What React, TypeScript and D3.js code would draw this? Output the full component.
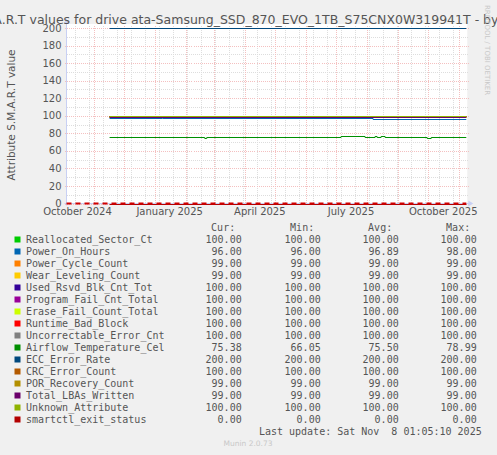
import React from 'react';
import * as d3 from 'd3';

const titleText = 'S.M.A.R.T values for drive ata-Samsung_SSD_870_EVO_1TB_S75CNX0W319941T - by year';
const yAxisTitle = 'Attribute S.M.A.R.T value';

const seriesNames = [
  'Reallocated_Sector_Ct', 'Power_On_Hours', 'Power_Cycle_Count', 'Wear_Leveling_Count',
  'Used_Rsvd_Blk_Cnt_Tot', 'Program_Fail_Cnt_Total', 'Erase_Fail_Count_Total', 'Runtime_Bad_Block',
  'Uncorrectable_Error_Cnt', 'Airflow_Temperature_Cel', 'ECC_Error_Rate', 'CRC_Error_Count',
  'POR_Recovery_Count', 'Total_LBAs_Written', 'Unknown_Attribute', 'smartctl_exit_status',
];
const seriesColors = [
  '#00CC00', '#0066B3', '#FF8000', '#FFCC00', '#330099', '#990099', '#CCFF00', '#FF0000',
  '#808080', '#008F00', '#00487D', '#B35A00', '#B38F00', '#6B006B', '#8FB300', '#B30000',
];
const curValues = [100, 96, 99, 99, 100, 100, 100, 100, 100, 75.38, 200, 100, 99, 99, 100, 0];
const minValues = [100, 96, 99, 99, 100, 100, 100, 100, 100, 66.05, 200, 100, 99, 99, 100, 0];
const avgValues = [100, 96.89, 99, 99, 100, 100, 100, 100, 100, 75.5, 200, 100, 99, 99, 100, 0];
const maxValues = [100, 98, 99, 99, 100, 100, 100, 100, 100, 78.99, 200, 100, 99, 99, 100, 0];

// flat series: value held over the whole recorded period
const firstSample = '2024-11-17';
const lastSample = '2025-11-08T01:05';
const flatLevels = [100, null, 99, 99, 100, 100, 100, 100, 100, null, 200, 100, 99, 99, 100, 0];

const powerOnHours: [string, number][] = [
  ['2024-11-17', 98], ['2025-01-09', 97], ['2025-08-07', 96], ['2025-11-08T01:05', 96],
];
const airflowTemp: [string, number][] = [
  ['2024-11-17', 75.4], ['2025-02-20', 74.2], ['2025-02-22', 75.4], ['2025-07-06', 76.6],
  ['2025-07-30', 75.4], ['2025-08-09', 76.6], ['2025-08-11', 75.4], ['2025-08-15', 76.6],
  ['2025-08-19', 75.4], ['2025-09-30', 74.2], ['2025-10-04', 75.4], ['2025-11-08T01:05', 75.4],
];

const monthLabels = ['2024-10-01', '2025-01-01', '2025-04-01', '2025-07-01', '2025-10-01'];
const yTicks = [0, 20, 40, 60, 80, 100, 120, 140, 160, 180, 200];
const yMinorTicks = [10, 30, 50, 70, 90, 110, 130, 150, 170, 190];

const W = 497;
const H = 455;
const left = 66.5;
const right = 466.3;
const top = 28;
const bottom = 203.5;

const x = d3.scaleUtc()
  .domain([new Date('2024-10-05T00:00Z'), new Date('2025-11-08T01:05Z')])
  .range([left, right]);
const y = d3.scaleLinear().domain([0, 200]).range([bottom, top]);

const parse = (s: string) => new Date(s.length > 10 ? s + 'Z' : s);
const fmt = (v: number) => v.toFixed(2);
const monthFmt = d3.utcFormat('%B %Y');

const line = d3.line<[string, number]>()
  .x(d => x(parse(d[0])))
  .y(d => Math.round(y(d[1])) + 0.5)
  .curve(d3.curveStepAfter);

function seriesData(i: number): [string, number][] {
  if (seriesNames[i] === 'Power_On_Hours') return powerOnHours;
  if (seriesNames[i] === 'Airflow_Temperature_Cel') return airflowTemp;
  return [[firstSample, flatLevels[i] as number], [lastSample, flatLevels[i] as number]];
}

export default function App() {
  const [d0, d1] = x.domain();
  const majorX = d3.utcMonth.range(d0, d1);
  const minorX = d3.utcSunday.range(d0, d1).filter((_, i) => i % 2 === 1);
  const mono = '"DejaVu Sans Mono", monospace';
  const sans = '"DejaVu Sans", sans-serif';
  const txt = '#555';
  const colRight = [241.7, 320.7, 398.7, 476.7];
  const rowY = (i: number) => 243 + 12 * i;

  return (
    <svg width={W} height={H} style={{ position: 'absolute', left: 0, top: 0 }} fontFamily={sans}>
      <rect width={W} height={H} fill="#F0F0F0" />
      <rect x={left} y={top - 4} width={right - left + 1} height={bottom - top + 4} fill="#FFFFFF" />

      {/* grid */}
      <g shapeRendering="crispEdges">
        {yMinorTicks.map(v => (
          <line key={'hm' + v} x1={left} x2={right + 2} y1={Math.round(y(v)) + 0.5} y2={Math.round(y(v)) + 0.5}
            stroke="#DDDDDD" strokeDasharray="1,1" />
        ))}
        {minorX.map(d => (
          <line key={'vm' + d.getTime()} x1={Math.round(x(d)) + 0.5} x2={Math.round(x(d)) + 0.5} y1={top - 2} y2={bottom}
            stroke="#DDDDDD" strokeDasharray="1,1" />
        ))}
        {yTicks.map(v => (
          <line key={'hM' + v} x1={left - 2} x2={right + 3} y1={Math.round(y(v)) + 0.5} y2={Math.round(y(v)) + 0.5}
            stroke="#F4C0C0" strokeDasharray="1,1" />
        ))}
        {majorX.map(d => (
          <line key={'vM' + d.getTime()} x1={Math.round(x(d)) + 0.5} x2={Math.round(x(d)) + 0.5} y1={top - 2} y2={bottom + 2}
            stroke="#F4C0C0" strokeDasharray="1,1" />
        ))}
      </g>

      {/* axes */}
      <g stroke="#C8D0F4" fill="#C8D0F4">
        <line x1={left} x2={left} y1={bottom + 2} y2={top - 6} />
        <path d={`M${left - 3},${top - 4}L${left},${top - 9}L${left + 3},${top - 4}Z`} stroke="none" />
        <line x1={left - 2} x2={right + 3} y1={bottom} y2={bottom} />
        <path d={`M${right + 2},${bottom - 3}L${right + 7},${bottom}L${right + 2},${bottom + 3}Z`} stroke="none" />
      </g>

      {/* series */}
      {seriesNames.map((name, i) => (
        <path key={name} d={line(seriesData(i)) || ''} fill="none" stroke={seriesColors[i]} strokeWidth={1} />
      ))}
      <line x1={left} x2={right} y1={Math.round(bottom) - 0.5} y2={Math.round(bottom) - 0.5}
        stroke="#D00000" strokeWidth={2} strokeDasharray="5,4" />

      {/* y ticks */}
      {yTicks.map(v => (
        <text key={'yt' + v} x={61.5} y={y(v) + 3.6} textAnchor="end" fontSize={10} fill={txt}>{v}</text>
      ))}
      {monthLabels.map(s => {
        const d = d3.utcDay.offset(parse(s), 15);
        return (
          <text key={s} x={x(d)} y={215.3} textAnchor="middle" fontSize={10} fill={txt}>{monthFmt(parse(s))}</text>
        );
      })}

      <text x={W / 2} y={24} textAnchor="middle" fontSize={12.5} fill={txt}>{titleText}</text>
      <text transform="translate(14.5,115) rotate(-90)" textAnchor="middle" fontSize={10.5} fill={txt}>{yAxisTitle}</text>
      <text transform="translate(484.5,5) rotate(90)" fontSize={7} fill="#C8C8C8">RRDTOOL / TOBI OETIKER</text>

      {/* legend */}
      <g fontFamily={mono} fontSize={10} fill={txt}>
        {['Cur:', 'Min:', 'Avg:', 'Max:'].map((h, j) => (
          <text key={h} x={colRight[j] - 6.5} y={231.3} textAnchor="end">{h}</text>
        ))}
        {seriesNames.map((name, i) => (
          <g key={name}>
            <rect x={14.5} y={rowY(i) - 6.5} width={6} height={6} fill={seriesColors[i]} />
            <text x={26} y={rowY(i)}>{name}</text>
            {[curValues, minValues, avgValues, maxValues].map((arr, j) => (
              <text key={j} x={colRight[j]} y={rowY(i)} textAnchor="end">{fmt(arr[i])}</text>
            ))}
          </g>
        ))}
        <text x={481.7} y={434.6} textAnchor="end" style={{ whiteSpace: 'pre' }}>{'Last update: Sat Nov  8 01:05:10 2025'}</text>
      </g>
      <text x={248} y={446} textAnchor="middle" fontSize={7.5} fill="#C8C8C8">Munin 2.0.73</text>
    </svg>
  );
}
